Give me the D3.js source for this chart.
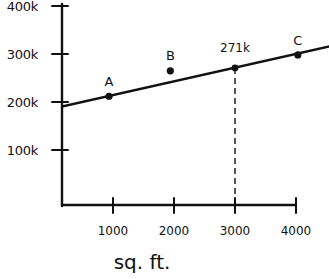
<!DOCTYPE html>
<html><head><meta charset="utf-8">
<script src="https://cdn.jsdelivr.net/npm/d3@7"></script>
<style>
html,body{margin:0;padding:0;background:#fff;}
svg{display:block;}
text{font-family:"DejaVu Sans",sans-serif;fill:#111;}
</style></head>
<body>
<svg id="c" width="329" height="279"></svg>
<script>
// ---- data ----
const yTickValues = [100000, 200000, 300000, 400000];
const yTickLabels = ["100k", "200k", "300k", "400k"];
const xTickValues = [1000, 2000, 3000, 4000];
const xTickLabels = ["1000", "2000", "3000", "4000"];
const pointNames = ["A", "B", "C"];
const pointSqft = [935, 1940, 4030];
const pointPrice = [212000, 265000, 298000];
const fitIntercept = 186000;
const fitSlope = 28.5;
const fitSqftRange = [164, 4545];
const highlightSqft = 3000;
const highlightPrice = 271000;
const highlightLabel = "271k";
const xTitle = "sq. ft.";

// ---- layout ----
const svg = d3.select("#c");
const axisX = 62, axisY = 205;
const x = d3.scaleLinear().domain([0, 4000]).range([52, 296]);
const y = d3.scaleLinear().domain([0, 400000]).range([198, 6]);
const ink = "#111";

// y axis line
svg.append("line").attr("x1", axisX).attr("x2", axisX).attr("y1", 4).attr("y2", axisY + 1)
  .attr("stroke", ink).attr("stroke-width", 2.4).attr("stroke-linecap", "round");
// x axis line
svg.append("line").attr("x1", axisX).attr("x2", x(4000)).attr("y1", axisY).attr("y2", axisY)
  .attr("stroke", ink).attr("stroke-width", 2.4).attr("stroke-linecap", "round");

// y ticks
const yg = svg.append("g");
yTickValues.forEach((v, i) => {
  yg.append("line").attr("x1", axisX - 10).attr("x2", axisX + 6).attr("y1", y(v)).attr("y2", y(v))
    .attr("stroke", ink).attr("stroke-width", 2).attr("stroke-linecap", "round");
  yg.append("text").attr("x", 38).attr("y", y(v)).attr("dy", "0.35em")
    .attr("text-anchor", "end").attr("font-size", 13).attr("letter-spacing", -0.3).text(yTickLabels[i]);
});

// x ticks
const xg = svg.append("g");
xTickValues.forEach((v, i) => {
  xg.append("line").attr("x1", x(v)).attr("x2", x(v)).attr("y1", axisY - 7).attr("y2", axisY + 8)
    .attr("stroke", ink).attr("stroke-width", 2).attr("stroke-linecap", "round");
  xg.append("text").attr("x", x(v)).attr("y", axisY + 26).attr("dy", "0.35em")
    .attr("text-anchor", "middle").attr("font-size", 12).text(xTickLabels[i]);
});

// x title
svg.append("text").attr("x", 142).attr("y", 262).attr("dy", "0.35em")
  .attr("text-anchor", "middle").attr("font-size", 20).text(xTitle);

// clip to keep the fit line to the right of the y axis
svg.append("clipPath").attr("id", "plotclip").append("rect")
  .attr("x", axisX).attr("y", 0).attr("width", 329 - axisX).attr("height", axisY);

// fit line
const fitLine = d3.line().x(d => x(d)).y(d => y(fitIntercept + fitSlope * d));
svg.append("path").datum(fitSqftRange).attr("d", fitLine)
  .attr("fill", "none").attr("stroke", ink).attr("stroke-width", 2.4)
  .attr("clip-path", "url(#plotclip)");

// dashed drop line
const hy = y(highlightPrice);
svg.append("line").attr("x1", x(highlightSqft)).attr("x2", x(highlightSqft))
  .attr("y1", hy).attr("y2", axisY)
  .attr("stroke", ink).attr("stroke-width", 1.4).attr("stroke-dasharray", "6,4");

// points
pointNames.forEach((n, i) => {
  const px = x(pointSqft[i]), py = y(pointPrice[i]);
  svg.append("circle").attr("cx", px).attr("cy", py).attr("r", 3.6).attr("fill", ink);
  svg.append("text").attr("x", px).attr("y", py - 15).attr("dy", "0.35em")
    .attr("text-anchor", "middle").attr("font-size", 13).text(n);
});

// highlight point
svg.append("circle").attr("cx", x(highlightSqft)).attr("cy", hy).attr("r", 3.4).attr("fill", ink);
svg.append("text").attr("x", x(highlightSqft)).attr("y", hy - 20).attr("dy", "0.35em")
  .attr("text-anchor", "middle").attr("font-size", 12).text(highlightLabel);
</script>
</body></html>
